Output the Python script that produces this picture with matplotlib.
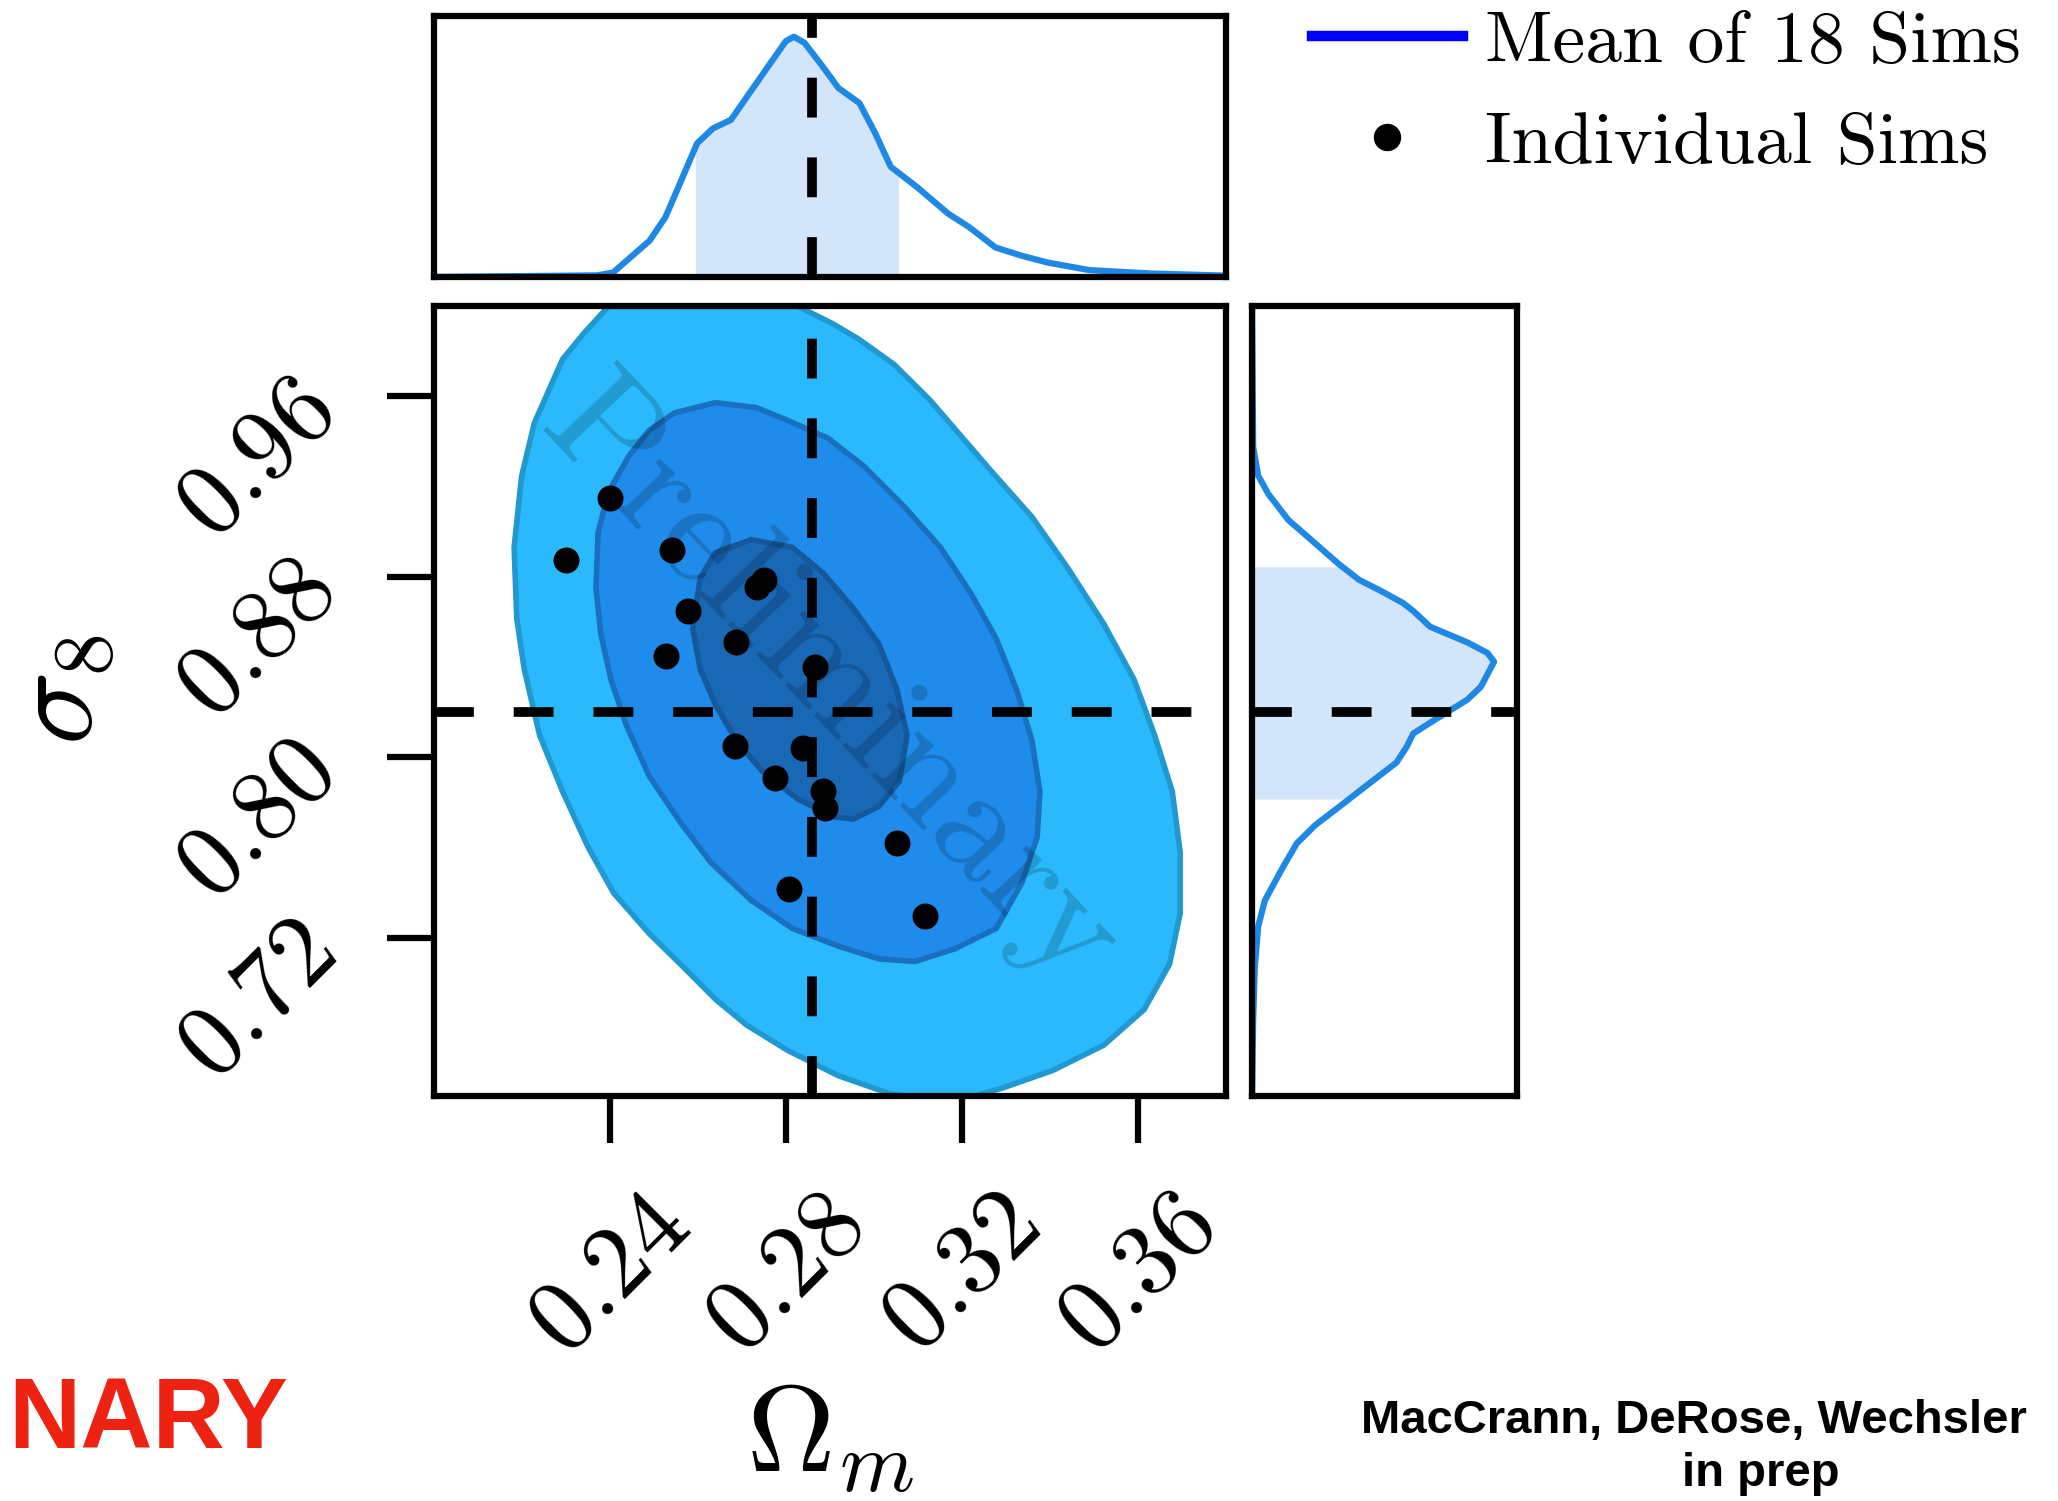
import numpy as np
import matplotlib
matplotlib.use("Agg")
from matplotlib import pyplot as plt
from matplotlib.lines import Line2D

plt.rcParams["mathtext.fontset"] = "cm"

# fiducial values (dashed cross)
OM_TRUE = 0.286
S8_TRUE = 0.820

# individual sims (Omega_m, sigma_8)
sims_om = [0.2400, 0.2299, 0.2541, 0.2751, 0.2733, 0.2578, 0.2687, 0.2528, 0.2866,
           0.2684, 0.2838, 0.2776, 0.2885, 0.2888, 0.3052, 0.2806, 0.3116]
sims_s8 = [0.9151, 0.8875, 0.8919, 0.8786, 0.8754, 0.8648, 0.8511, 0.8448, 0.8400,
           0.8050, 0.8043, 0.7910, 0.7853, 0.7775, 0.7620, 0.7417, 0.7296]

# contour outlines (outer, middle, inner)
outer_om = [0.2397, 0.2339, 0.2292, 0.2228, 0.2199, 0.2182, 0.2188, 0.2205, 0.2240, 0.2292,
            0.2350, 0.2408, 0.2489, 0.2571, 0.2640, 0.2710, 0.2803, 0.2919, 0.3035, 0.3116,
            0.3208, 0.3290, 0.3406, 0.3522, 0.3614, 0.3672, 0.3696, 0.3696, 0.3678, 0.3638,
            0.3591, 0.3522, 0.3440, 0.3359, 0.3267, 0.3197, 0.3127, 0.3046, 0.2965, 0.2907,
            0.2826, 0.2760, 0.2450]
outer_s8 = [1.0000, 0.9876, 0.9764, 0.9482, 0.9246, 0.8931, 0.8616, 0.8391, 0.8098, 0.7850,
            0.7603, 0.7400, 0.7220, 0.7063, 0.6928, 0.6815, 0.6703, 0.6590, 0.6511, 0.6478,
            0.6489, 0.6534, 0.6613, 0.6725, 0.6883, 0.7085, 0.7310, 0.7580, 0.7850, 0.8098,
            0.8346, 0.8593, 0.8841, 0.9066, 0.9268, 0.9426, 0.9584, 0.9741, 0.9854, 0.9921,
            1.0000, 1.0100, 1.0100]

mid_om = [0.2640, 0.2547, 0.2489, 0.2443, 0.2397, 0.2373, 0.2368, 0.2379, 0.2402, 0.2437,
          0.2489, 0.2559, 0.2629, 0.2721, 0.2814, 0.2919, 0.3011, 0.3093, 0.3185, 0.3278,
          0.3336, 0.3371, 0.3377, 0.3359, 0.3324, 0.3278, 0.3220, 0.3151, 0.3069, 0.2977,
          0.2895, 0.2803, 0.2733]
mid_s8 = [0.9572, 0.9527, 0.9449, 0.9336, 0.9178, 0.8998, 0.8751, 0.8548, 0.8346, 0.8143,
          0.7918, 0.7715, 0.7535, 0.7367, 0.7243, 0.7164, 0.7108, 0.7096, 0.7153, 0.7243,
          0.7445, 0.7648, 0.7850, 0.8076, 0.8301, 0.8526, 0.8728, 0.8931, 0.9111, 0.9291,
          0.9415, 0.9494, 0.9550]

inner_om = [0.2721, 0.2640, 0.2605, 0.2588, 0.2605, 0.2640, 0.2687, 0.2745, 0.2826, 0.2907,
            0.2953, 0.3011, 0.3058, 0.3075, 0.3052, 0.3011, 0.2953, 0.2884, 0.2814]
inner_s8 = [0.8965, 0.8908, 0.8796, 0.8571, 0.8391, 0.8233, 0.8076, 0.7941, 0.7817, 0.7738,
            0.7727, 0.7783, 0.7896, 0.8098, 0.8301, 0.8503, 0.8661, 0.8818, 0.8931]

# 1D marginal of Omega_m (mean of sims)
top_om = [0.200, 0.2371, 0.2407, 0.2490, 0.2526, 0.2562, 0.2598, 0.2634, 0.2675, 0.2717,
          0.2765, 0.2800, 0.2818, 0.2842, 0.2883, 0.2919, 0.2967, 0.3003, 0.3038, 0.3098,
          0.3169, 0.3217, 0.3276, 0.3336, 0.3395, 0.3490, 0.3633, 0.380]
top_p = [0.0, 0.006, 0.017, 0.139, 0.229, 0.370, 0.512, 0.569, 0.602, 0.704,
         0.820, 0.904, 0.920, 0.897, 0.807, 0.724, 0.666, 0.550, 0.422, 0.344,
         0.242, 0.190, 0.113, 0.081, 0.055, 0.026, 0.013, 0.005]
top_band = (0.2594, 0.3056)

# 1D marginal of sigma_8
right_s8 = [0.650, 0.6835, 0.7066, 0.7251, 0.7366, 0.7505, 0.7620, 0.7701, 0.7781, 0.7874,
            0.7978, 0.8047, 0.8106, 0.8163, 0.8256, 0.8313, 0.8424, 0.8463, 0.8510, 0.8579,
            0.8649, 0.8684, 0.8741, 0.8786, 0.8856, 0.8961, 0.9052, 0.9168, 0.9249, 0.9376, 1.0]
right_p = [0.0, 0.004, 0.010, 0.023, 0.048, 0.112, 0.169, 0.239, 0.328, 0.430,
           0.545, 0.583, 0.608, 0.684, 0.812, 0.863, 0.913, 0.888, 0.812, 0.672,
           0.608, 0.570, 0.481, 0.405, 0.328, 0.226, 0.137, 0.061, 0.023, 0.004, 0.0]
right_band = (0.7816, 0.8845)

xticks = [0.24, 0.28, 0.32, 0.36]
yticks = [0.72, 0.80, 0.88, 0.96]
XLIM = (0.20, 0.38)
YLIM = (0.65, 1.00)

LINE_BLUE = "#1e88e5"
BAND_BLUE = "#d3e6f9"
FRAME_LW = 4.5
DASH_KW = dict(color="k", lw=7, dashes=(4.1, 4.1))

fig = plt.figure(figsize=(20.58, 15.01), dpi=100)
ax = fig.add_axes([0.2109, 0.2698, 0.3848, 0.5263])
ax_top = fig.add_axes([0.2109, 0.8155, 0.3848, 0.1739])
ax_right = fig.add_axes([0.6084, 0.2698, 0.1288, 0.5263])

for a in (ax, ax_top, ax_right):
    for sp in a.spines.values():
        sp.set_linewidth(FRAME_LW)

# --- main panel
ax.fill(outer_om, outer_s8, facecolor="#29b9fc", edgecolor="#2098d0", lw=4, zorder=1)
ax.fill(mid_om, mid_s8, facecolor="#1f8bea", edgecolor="#1a6fbe", lw=4, zorder=2)
ax.fill(inner_om, inner_s8, facecolor="#1968b6", edgecolor="#15589c", lw=4, zorder=3)
ax.text(0.2900, 0.8320, "Preliminary", family="cmr10", fontsize=108, rotation=-46.5,
        ha="center", va="center", color="k", alpha=0.17, zorder=4)
ax.axvline(OM_TRUE, zorder=5, **DASH_KW)
ax.axhline(S8_TRUE, zorder=5, **DASH_KW)
ax.scatter(sims_om, sims_s8, s=350, color="k", zorder=6, linewidths=0)
ax.set_xlim(*XLIM)
ax.set_ylim(*YLIM)
ax.set_xticks(xticks, labels=[f"${t:.2f}$" for t in xticks])
ax.set_yticks(yticks, labels=[f"${t:.2f}$" for t in yticks])
ax.tick_params(direction="out", length=34, width=4.5, labelsize=73, top=False, right=False)
ax.tick_params(axis="x", pad=24)
ax.tick_params(axis="y", pad=48)
plt.setp(ax.get_xticklabels(), rotation=45, ha="center")
plt.setp(ax.get_yticklabels(), rotation=45, ha="right", va="center", rotation_mode="anchor")
ax.set_xlabel(r"$\Omega_m$", fontsize=88)
ax.set_ylabel(r"$\sigma_8$", fontsize=88)
ax.xaxis.set_label_coords(0.5, -0.36)
ax.yaxis.set_label_coords(-0.40, 0.515)

# --- top marginal
om = np.array(top_om)
p = np.array(top_p)
inside = (om > top_band[0]) & (om < top_band[1])
bx = np.concatenate([[top_band[0]], om[inside], [top_band[1]]])
by = np.concatenate([[np.interp(top_band[0], om, p)], p[inside], [np.interp(top_band[1], om, p)]])
ax_top.fill_between(bx, 0, by, color=BAND_BLUE, lw=0, zorder=1)
ax_top.plot(om, p, color=LINE_BLUE, lw=4.5, zorder=2, solid_joinstyle="round")
ax_top.axvline(OM_TRUE, zorder=3, **DASH_KW)
ax_top.set_xlim(*XLIM)
ax_top.set_ylim(0, 1.0)
ax_top.set_xticks([])
ax_top.set_yticks([])

# --- right marginal
s8 = np.array(right_s8)
q = np.array(right_p)
inside = (s8 > right_band[0]) & (s8 < right_band[1])
by = np.concatenate([[right_band[0]], s8[inside], [right_band[1]]])
bx = np.concatenate([[np.interp(right_band[0], s8, q)], q[inside], [np.interp(right_band[1], s8, q)]])
ax_right.fill_betweenx(by, 0, bx, color=BAND_BLUE, lw=0, zorder=1)
ax_right.plot(q, s8, color=LINE_BLUE, lw=4.5, zorder=2, solid_joinstyle="round")
ax_right.axhline(S8_TRUE, zorder=3, **DASH_KW)
ax_right.set_ylim(*YLIM)
ax_right.set_xlim(0, 1.0)
ax_right.set_xticks([])
ax_right.set_yticks([])

# --- legend
handles = [Line2D([], [], color="#0000ff", lw=7.5),
           Line2D([], [], color="k", marker="o", ls="none", markersize=18.7)]
fig.legend(handles, ["Mean of 18 Sims", "Individual Sims"], loc="upper left",
           bbox_to_anchor=(0.6375, 0.993), frameon=False, prop={"family": "cmr10", "size": 53},
           handlelength=2.05, handletextpad=0.3, labelspacing=0.48, borderpad=0.0,
           borderaxespad=0.0)

# --- slide text
fig.text(0.004, 0.0353, "NARY", color="#ee2211", fontsize=72, fontweight="bold",
         family="Liberation Sans", ha="left", va="baseline")
fig.text(0.6613, 0.045, "MacCrann, DeRose, Wechsler", fontsize=34, fontweight="bold",
         family="Liberation Sans", ha="left", va="baseline")
fig.text(0.8558, 0.0100, "in prep", fontsize=34, fontweight="bold",
         family="Liberation Sans", ha="center", va="baseline")

fig.savefig("out.png", dpi=100)
